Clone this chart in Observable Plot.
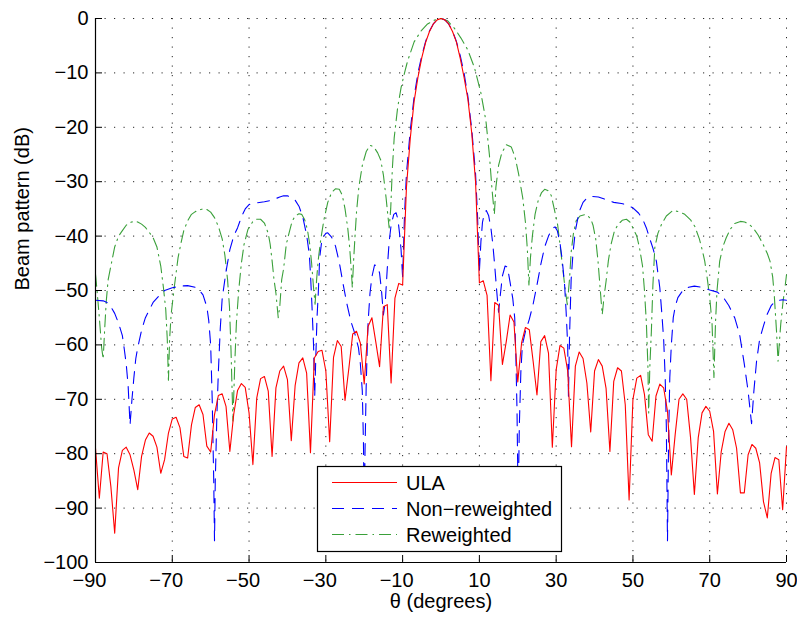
<!DOCTYPE html>
<html><head><meta charset="utf-8">
<script src="https://cdn.jsdelivr.net/npm/d3@7"></script>
<script src="https://cdn.jsdelivr.net/npm/@observablehq/plot@0.6"></script>
<style>
body{margin:0;background:#fff}
#chart{position:relative;width:797px;height:619px}
</style>
</head><body><div id="chart"></div>
<script>
// ---- data ----
const xTicks = [-90, -70, -50, -30, -10, 10, 30, 50, 70, 90];
const yTicks = [0, -10, -20, -30, -40, -50, -60, -70, -80, -90, -100];
const seriesNames = ["ULA", "Non\u2212reweighted", "Reweighted"];

const ulaTheta = [
-90,-89,-88,-87,-86,-85,-84,-83,-82,-81,-80,-79,-78,-77,-76,-75,-74,-73,-72,-71,
-70,-69,-68,-67,-66,-65,-64,-63,-62,-61,-60,-59,-58,-57,-56,-55,-54,-53,-52,-51,
-50,-49,-48,-47,-46,-45,-44,-43,-42,-41,-40,-39,-38,-37,-36,-35,-34,-33,-32,-31,
-30,-29,-28,-27,-26,-25,-24,-23,-22,-21,-20,-19,-18,-17,-16,-15,-14,-13,-12,-11,
-10,-9,-8,-7,-6,-5,-4,-3,-2,-1,0,1,2,3,4,5,6,7,8,9,10,
11,12,13,14,15,16,17,18,19,20,21,22,23,24,25,26,27,28,29,30,
31,32,33,34,35,36,37,38,39,40,41,42,43,44,45,46,47,48,49,50,
51,52,53,54,55,56,57,58,59,60,61,62,63,64,65,66,67,68,69,70,
71,72,73,74,75,76,77,78,79,80,81,82,83,84,85,86,87,88,89,90];
const ulaDB = [
-79,-88.2,-79.7,-80,-86,-94.6,-82.6,-79.4,-78.8,-80.2,
-83,-86.6,-80.5,-77.5,-76.2,-76.8,-78.8,-83.6,-81.1,-76.2,
-73.6,-73.3,-75.2,-80.5,-80.8,-74.7,-71.5,-71,-72.8,-78.6,
-79.7,-72.8,-69.3,-69,-71.3,-79.6,-72.8,-68.4,-67.1,-67.8,
-72.5,-82,-69.8,-66.2,-65.8,-68.5,-80.5,-67.9,-64.8,-63.9,
-66.4,-77.6,-67.5,-63.3,-62.4,-65.2,-79.8,-62.4,-61.2,-61,
-64.8,-77.8,-62.3,-59.2,-60.3,-70.2,-64.3,-58,-57.5,-59.7,
-67.2,-56.6,-55,-59.4,-64,-53,-52.6,-67,-51.4,-48.7,
-49,-31,-22,-15.2,-10.8,-7.2,-4.4,-2.4,-1.0,-0.25,
0,
-0.25,-1.0,-2.4,-4.3,-7.3,-10.8,-14.8,-21,-30,-48.6,
-48.2,-50.9,-66.6,-52.2,-52.7,-63.6,-59.4,-54.5,-55.8,-66.8,
-59.6,-56.8,-57.2,-63,-69.2,-59.4,-58.3,-61.5,-78.8,-64.6,
-60.1,-60.6,-64.8,-78.7,-63.9,-61.3,-62.5,-67,-76,-64.8,
-62.7,-63.9,-68,-79.6,-66.7,-64.2,-64.8,-71,-88.5,-70,
-66.1,-65.6,-69.1,-76.5,-77.7,-69.4,-67.2,-67.9,-72.2,-83.9,
-76.5,-70,-69,-70,-77,-87.5,-77.1,-72.5,-71.3,-72.2,
-75.9,-87.4,-79.6,-75.9,-74.4,-75.6,-79,-87.2,-87.2,-80.2,
-78.3,-79,-81.7,-88.8,-91.8,-83.6,-80.7,-81.1,-90.3,-78.7];

const nonTheta = [
-90,-88,-87,-86,-85,-84,-83,-82.5,-82,-81.5,-81,-80.5,-80,-79.5,-79,-78,-77,-76,-75,-73.5,
-72,-70,-68,-66,-64,-63,-62,-61,-60.5,-60,-59.6,-59.2,-59,-58.8,-58.4,-58,-57.5,-57,-56,-55,
-54,-53,-52,-51,-50,-48,-46,-44,-42,-41,-40,-39,-38,-37,-36,-35,-34.3,-34,-33.6,-33.2,
-32.9,-32.6,-32.3,-32,-31.6,-31,-30,-29.5,-28.5,-27.5,-26.5,-25.5,-24.5,-23.5,-22.5,-21.5,-21,-20.5,-20.2,-20,
-19.8,-19.5,-19.2,-19,-18.5,-18,-17.3,-16.5,-16,-15.5,-15,-14.5,-14,-13.5,-13,-12.3,-11.7,-11.2,-10.8,-10.4,
-10,-9.5,-9,-8,-7,-6,-5,-4,-3,-2,-1,0,1,2,3,4,5,6,7,8,
9,9.5,10,10.4,10.8,11.3,11.8,12.4,13,13.5,14,14.5,15,15.5,16,16.7,17.3,18,18.7,19.2,
19.5,19.8,20.1,20.4,20.8,21.2,22,23,24,25,26,27,28,29,29.7,30.3,31,31.6,32.2,32.6,
33,33.2,33.5,33.9,34.4,35,36,37,38,39,41,43,45,47,48,50,51.5,52.6,53.5,54.3,
55.2,56.1,57,57.5,58,58.4,58.7,59,59.3,59.6,60,60.5,61,61.7,63,64.5,66,68,70,72,
73.5,75,76.5,77.8,79,80,80.9,81.5,82.2,83,84,85,86,87,88,89,90];
const nonDB = [
-51.8,-51.9,-52.2,-53,-54.2,-56,-58.3,-60.8,-63.5,-67.5,-74.7,-70,-66,-62.5,-60.5,-57.3,-55,-53.6,-52.2,-51,
-50,-49.5,-49.2,-49.1,-49.4,-49.9,-50.8,-53,-55.5,-60,-70,-85,-96,-85,-73.4,-65,-57,-51.5,-46.5,-42.5,
-40,-38.5,-36.5,-35,-34.2,-33.9,-33.7,-33.4,-32.8,-32.6,-32.6,-32.9,-33.4,-34.5,-36.5,-39.8,-43.4,-47,-53,-60,
-69.5,-62,-55,-51,-44,-40.5,-39.5,-39.4,-40.2,-41.8,-44.8,-48.8,-52.5,-55.6,-57.8,-60.5,-63.5,-68.5,-78,-92,
-80,-68,-60,-56,-50.5,-47.5,-45.3,-45.6,-46.8,-50,-54.5,-52,-46,-41,-38,-36,-35.7,-37,-39.5,-42.5,
-47.5,-36,-28.5,-20.5,-14.4,-10,-6.8,-4.2,-2.3,-1,-0.25,0,-0.25,-1,-2.3,-4.2,-6.8,-10,-14.3,-20.3,
-28.5,-36,-46.5,-41,-37.5,-35.8,-35.3,-36.2,-38.5,-41.5,-45.5,-50,-54,-50.5,-47.3,-45.5,-45.7,-48.5,-51.5,-55,
-62,-72,-90,-75,-65,-60,-57.5,-55.3,-52.5,-49,-45.2,-42,-40,-38.6,-38.3,-39,-41.3,-44.5,-49,-54,
-60,-69.5,-58,-48,-43,-39,-35.5,-33.8,-33,-32.7,-32.8,-33.3,-33.8,-34,-34.2,-34.8,-35.8,-37,-38.5,-40.3,
-42.2,-44.6,-49.5,-54,-59,-66,-75,-96,-77,-66,-60,-55,-53,-51.3,-50,-49.4,-49.2,-49.4,-49.9,-50.3,
-51.2,-52.8,-55,-58.1,-63.5,-68.5,-74.5,-68.5,-63,-59,-56.5,-54.3,-52.8,-52,-51.8,-51.7,-51.8];

const rewTheta = [
-90,-89.6,-89,-88.4,-88,-87.6,-87.2,-86.7,-86,-85,-84,-83,-82,-81,-80,-79,-78,-77,-76,-75,
-74,-73,-72.3,-71.7,-71.3,-71,-70.7,-70.3,-69.5,-68.5,-67.8,-67,-66,-65,-64,-63,-62,-61,-60,-59,
-58,-57,-56.3,-55.6,-55.1,-54.7,-54.2,-53.7,-53.3,-52.7,-52,-51.3,-50.3,-49,-48,-47,-46,-45,-44.5,-44,
-43.5,-43,-42.4,-42,-41.5,-41,-40.3,-39.6,-38.8,-38,-37,-36.3,-35.5,-34.8,-34.2,-33.7,-33.2,-32.8,-32.4,-32,
-31.3,-30.5,-29.5,-28.5,-27.5,-26.5,-25.7,-25,-24.3,-23.8,-23.3,-23.1,-22.8,-22.4,-22,-21.4,-20.5,-19.5,-18.5,-17.5,
-16.5,-15.7,-15,-14.3,-13.8,-13.5,-13.1,-12.7,-12.2,-11.3,-10.4,-9.5,-8.7,-7,-5.2,-3.5,-1.7,0,1.7,3.5,
5.2,7,8.7,10.4,11.7,12.6,13.3,13.9,14.3,15,15.8,17,18.3,19.3,20.2,21.3,22,22.5,22.9,23.3,
23.8,24.5,25.3,26.2,27,27.8,28.7,29.5,30.4,31.3,32.2,32.9,33.5,33.9,34.5,35.2,36.2,37.8,39,39.6,
40.3,40.9,41.5,42,42.5,43,43.6,44.3,45.2,46.1,47.2,48.3,49.2,50,51,51.7,52.5,53,53.5,53.9,
54.1,54.4,54.8,55.2,55.7,56.5,57.4,58.7,60.4,62,63.5,65,66.1,67.3,68.2,68.7,69.4,70,70.6,71.1,
71.5,71.9,72.6,73.4,74.3,75.4,76.5,78,79.1,80.2,81.3,82.6,83.9,85,85.7,86.4,86.8,87.4,87.8,88.2,
88.5,89.1,89.6,90];
const rewDB = [
-47,-50,-55,-60.5,-62.6,-57,-52,-48,-45.5,-42,-40,-39,-38,-37.5,-37.3,-37.4,-37.8,-38.4,-39.3,-40.3,
-42,-45.5,-49.5,-53.5,-59,-66.5,-59,-54.4,-49.5,-44,-41.5,-39,-37.2,-36,-35.5,-35.2,-35,-35.1,-35.6,-36.6,
-38.2,-40.5,-43.5,-48,-53,-61,-74,-63,-56,-50,-45,-41.5,-38.8,-37.3,-36.9,-36.9,-37.6,-39.5,-41.5,-44.5,
-48,-50.5,-55,-53,-48,-46,-41.5,-39.5,-37.3,-36.3,-35.9,-36,-37,-38.8,-41.5,-45,-49.5,-52.5,-48,-44.5,
-40.5,-37,-33.8,-32,-31.3,-31.4,-32.5,-35,-38.5,-42,-47,-49.5,-45,-40,-35.5,-31,-27,-24.5,-23.3,-23.6,
-24.7,-26,-28.8,-33,-36.5,-38.5,-35,-28,-22,-16.4,-12.7,-10,-7.8,-4.3,-2.3,-1,-0.3,0,-0.4,-1.8,
-3.6,-5.8,-9,-13.7,-18.8,-25,-31.5,-36,-31,-27,-24.8,-23.2,-23.6,-25.5,-28.5,-33,-37.5,-42.5,-49,-44,
-40,-36,-33.5,-32,-31.4,-31.6,-32.5,-35,-38,-43.4,-48.9,-52.6,-47.7,-43,-39.5,-37.2,-36.3,-36,-36.8,-38,
-40.5,-44.6,-50,-54.4,-51,-48.3,-44.5,-41.5,-39,-37.9,-37.1,-36.9,-37.4,-38.5,-40,-42.1,-45.5,-50,-56,-64,
-72.5,-64,-57.5,-49,-42.1,-39.5,-37.9,-36.3,-35.3,-35.5,-36,-37,-38.2,-40.5,-43,-44.6,-48,-51.3,-56,-66,
-56,-50,-44.6,-42,-40.3,-38.7,-37.7,-37.3,-37.4,-37.8,-38.5,-39.8,-41.5,-43.2,-44.6,-47.5,-50.7,-57.5,-63,-59,
-56.2,-52,-49.5,-47.1];

// ---- build tables ----
const ula = ulaTheta.map((t, i) => ({t, v: ulaDB[i]}));
const non = nonTheta.map((t, i) => ({t, v: nonDB[i]}));
const rew = rewTheta.map((t, i) => ({t, v: rewDB[i]}));

const W = 797, H = 619, mL = 95, mR = 11, mT = 18, mB = 57;
const font = "'Liberation Sans', Arial, Helvetica, sans-serif";
const gridDash = "1.2,8.3";
const colors = ["#ff0000", "#0000ff", "#3aa03a"];
const dashes = [null, "12,8", "12,5,1.5,5"];

const chart = Plot.plot({
  width: W, height: H,
  marginLeft: mL, marginRight: mR, marginTop: mT, marginBottom: mB,
  style: {fontFamily: font, fontSize: "20px", background: "#fff", color: "#000"},
  x: {domain: [-90, 90], ticks: xTicks},
  y: {domain: [-100, 0], ticks: yTicks},
  marks: [
    Plot.gridX(xTicks, {stroke: "#000", strokeOpacity: 0.85, strokeDasharray: gridDash, strokeWidth: 1}),
    Plot.gridY(yTicks, {stroke: "#000", strokeOpacity: 0.85, strokeDasharray: gridDash, strokeWidth: 1}),
    Plot.line(rew, {x: "t", y: "v", stroke: colors[2], strokeWidth: 1.1, strokeDasharray: dashes[2]}),
    Plot.line(non, {x: "t", y: "v", stroke: colors[1], strokeWidth: 1.1, strokeDasharray: dashes[1]}),
    Plot.line(ula, {x: "t", y: "v", stroke: colors[0], strokeWidth: 1.1}),
    // inward ticks
    Plot.tickY(yTicks, {y: d => d, stroke: "#000", insetRight: W - mL - mR - 7}),
    Plot.tickX(xTicks, {x: d => d, stroke: "#000", insetTop: H - mT - mB - 7}),
    // axis lines
    Plot.ruleX([-90], {stroke: "#000", strokeWidth: 1.2}),
    Plot.ruleY([-100], {stroke: "#000", strokeWidth: 1.2}),
    // tick labels
    Plot.axisY(yTicks, {tickSize: 0, tickPadding: 7, label: null, fontSize: 20}),
    Plot.axisX(xTicks.filter(d => d < 0), {tickSize: 0, tickPadding: 10, label: null, dx: -6, fontSize: 20}),
    Plot.axisX(xTicks.filter(d => d >= 0), {tickSize: 0, tickPadding: 10, label: null, fontSize: 20}),
    // axis titles
    Plot.text(["Beam pattern (dB)"], {frameAnchor: "left", dx: -73, rotate: -90, text: d => d, fontSize: 20}),
    Plot.text(["\u03b8 (degrees)"], {frameAnchor: "bottom", dy: 45, text: d => d, fontSize: 20})
  ]
});
document.getElementById("chart").appendChild(chart);

// ---- legend inside the plot area ----
const svg = d3.select(chart);
const lg = svg.append("g").attr("font-family", font).attr("font-size", 20).attr("text-anchor", "start");
lg.append("rect").attr("x", 317.5).attr("y", 466.5).attr("width", 244).attr("height", 85)
  .attr("fill", "#fff").attr("stroke", "#000").attr("stroke-width", 1.2);
const rows = [482.5, 508.5, 534.5];
seriesNames.forEach((name, i) => {
  const line = lg.append("line").attr("x1", 332).attr("x2", 397).attr("y1", rows[i]).attr("y2", rows[i])
    .attr("stroke", colors[i]).attr("stroke-width", 1.1);
  if (dashes[i]) line.attr("stroke-dasharray", dashes[i]);
  lg.append("text").attr("x", 406).attr("y", rows[i]).attr("dy", "0.36em").attr("text-anchor", "start")
    .attr("fill", "#000").text(name);
});
</script>
</body></html>
